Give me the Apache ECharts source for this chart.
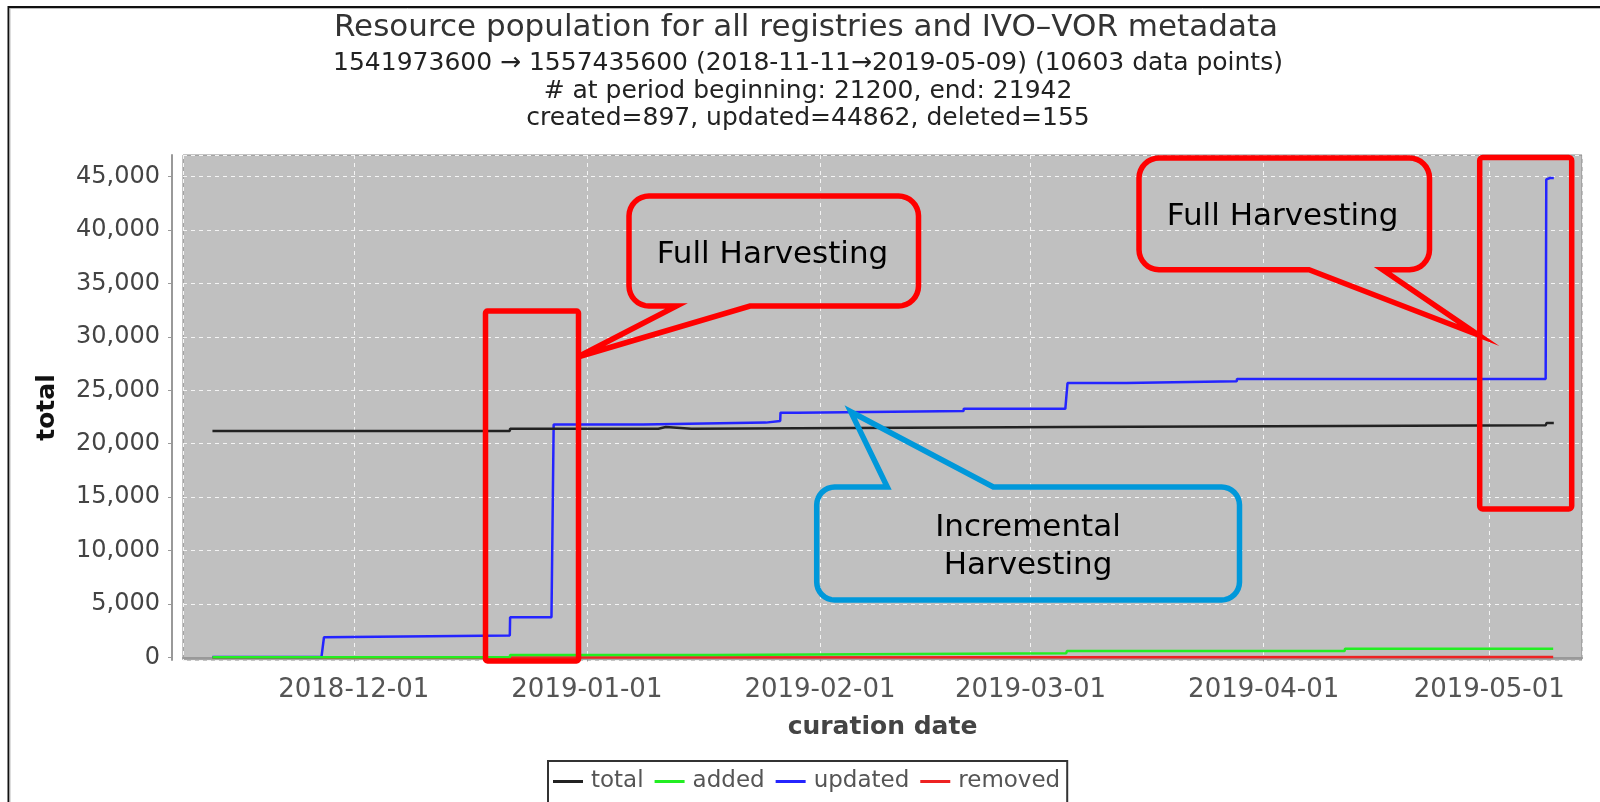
<!DOCTYPE html>
<html>
<head>
<meta charset="utf-8">
<title>Resource population for all registries and IVO-VOR metadata</title>
<style>
  html, body { margin: 0; padding: 0; background: #fff; }
  #main { width: 1600px; height: 802px; }
</style>
</head>
<body>
<div id="main"></div>
<script src="https://cdn.jsdelivr.net/npm/echarts@6.0.0/dist/echarts.min.js"></script>
<script>
// series values: [time, value] at each step
var totalData = [
  ['2018-11-12 05:00', 21200],
  ['2018-12-21 18:00', 21200],
  ['2018-12-21 19:00', 21400],
  ['2019-01-10 12:00', 21400],
  ['2019-01-10 13:00', 21560],
  ['2019-01-11 12:00', 21560],
  ['2019-01-11 13:00', 21400],
  ['2019-01-14 22:00', 21400],
  ['2019-01-14 23:00', 21560],
  ['2019-03-05 17:00', 21560],
  ['2019-03-05 19:00', 21740],
  ['2019-05-08 12:00', 21740],
  ['2019-05-08 15:00', 21942],
  ['2019-05-09 14:00', 21942]
];
var addedData = [
  ['2018-11-12 05:00', 20],
  ['2018-12-21 18:00', 20],
  ['2018-12-21 19:00', 230],
  ['2019-01-17 21:00', 230],
  ['2019-01-17 22:00', 400],
  ['2019-03-05 18:00', 400],
  ['2019-03-05 20:00', 600],
  ['2019-04-11 18:00', 600],
  ['2019-04-11 20:00', 830],
  ['2019-05-09 12:00', 830]
];
var updatedData = [
  ['2018-11-12 05:00', 50],
  ['2018-11-26 17:00', 50],
  ['2018-11-27 01:00', 1900],
  ['2018-12-21 18:00', 2060],
  ['2018-12-21 19:00', 3770],
  ['2018-12-27 07:00', 3770],
  ['2018-12-27 14:00', 21790],
  ['2019-01-08 12:00', 21790],
  ['2019-01-08 13:00', 21975],
  ['2019-01-24 19:00', 21975],
  ['2019-01-24 20:00', 22125],
  ['2019-01-26 17:00', 22125],
  ['2019-01-26 18:00', 22910],
  ['2019-01-29 02:00', 22910],
  ['2019-01-29 03:00', 23060],
  ['2019-02-20 02:00', 23060],
  ['2019-02-20 03:00', 23270],
  ['2019-03-05 15:00', 23270],
  ['2019-03-05 22:00', 25680],
  ['2019-03-13 17:00', 25680],
  ['2019-03-13 18:00', 25840],
  ['2019-03-28 10:00', 25840],
  ['2019-03-28 11:00', 26060],
  ['2019-05-08 12:00', 26060],
  ['2019-05-08 14:00', 44730],
  ['2019-05-09 02:00', 44862],
  ['2019-05-09 14:00', 44862]
];
var removedData = [
  ['2018-11-12 05:00', 0],
  ['2018-12-21 18:00', 0],
  ['2018-12-21 19:00', 40],
  ['2019-05-09 12:00', 40]
];

var seriesNames = ['total', 'added', 'updated', 'removed'];
var seriesColors = ['#222222', '#22ee22', '#2424ff', '#ee2222'];

var titleText = 'Resource population for all registries and IVO\u2013VOR metadata';
var subLines = [
  '1541973600 \u2192 1557435600 (2018-11-11\u21922019-05-09) (10603 data points)',
  '# at period beginning: 21200, end: 21942',
  'created=897, updated=44862, deleted=155'
];

var xMin = '2018-11-08 07:00';
var xMax = '2019-05-13 08:00';
var yMin = -234;
var yMax = 47013;

function toTime(s) {
  return new Date(s.replace(' ', 'T')).getTime();
}

// rounded box outline with a pointed tail on its top or bottom side, as polygon points
function calloutPoints(x0, y0, x1, y1, r, side, b0, b1, tx, ty) {
  var pts = [];
  function corner(cx, cy, a0) {
    for (var k = 0; k <= 8; k++) {
      var a = (a0 + k * 90 / 8) * Math.PI / 180;
      pts.push([cx + r * Math.cos(a), cy + r * Math.sin(a)]);
    }
  }
  corner(x0 + r, y0 + r, 180);
  if (side === 'top') { pts.push([b0, y0], [tx, ty], [b1, y0]); }
  corner(x1 - r, y0 + r, 270);
  corner(x1 - r, y1 - r, 0);
  if (side === 'bottom') { pts.push([b1, y1], [tx, ty], [b0, y1]); }
  corner(x0 + r, y1 - r, 90);
  return pts;
}

var FONT = 'DejaVu Sans';
var RED = '#ff0000';
var BLUE = '#0098da';

function centredText(text, x, y, size, color) {
  return { type: 'text', x: x, y: y,
    style: { text: text, fontFamily: FONT, fontSize: size, fill: color, align: 'center', verticalAlign: 'middle' } };
}

var graphics = [
  // outer frame
  { type: 'line', shape: { x1: 8, y1: 7, x2: 1600, y2: 7 }, style: { stroke: '#111', lineWidth: 2 } },
  { type: 'line', shape: { x1: 8.5, y1: 6, x2: 8.5, y2: 802 }, style: { stroke: '#111', lineWidth: 2 } },
  { type: 'line', shape: { x1: 10, y1: 8.5, x2: 1600, y2: 8.5 }, style: { stroke: '#bbb', lineWidth: 1 } },
  { type: 'line', shape: { x1: 10, y1: 8.5, x2: 10, y2: 802 }, style: { stroke: '#bbb', lineWidth: 1 } },
  // title block
  centredText(titleText, 806, 28, 31, '#333'),
  centredText(subLines[0], 808, 63.5, 25, '#222'),
  centredText(subLines[1], 808, 91, 25, '#222'),
  centredText(subLines[2], 808, 118.5, 25, '#222'),
  // highlight boxes
  { type: 'rect', z: 100, shape: { x: 485.5, y: 311, width: 93, height: 350, r: 2 },
    style: { fill: 'none', stroke: RED, lineWidth: 5.5 } },
  { type: 'rect', z: 100, shape: { x: 1479.7, y: 157.5, width: 92, height: 351.5, r: 3 },
    style: { fill: 'none', stroke: RED, lineWidth: 5.5 } },
  // callouts
  { type: 'polygon', z: 100, shape: { points: calloutPoints(629, 196, 918.5, 306, 20, 'bottom', 676.5, 750, 577.6, 357) },
    style: { fill: 'none', stroke: RED, lineWidth: 5.5, lineJoin: 'miter' } },
  { type: 'polygon', z: 100, shape: { points: calloutPoints(1139, 158, 1429.5, 269.7, 20, 'bottom', 1309, 1382.7, 1478.3, 335) },
    style: { fill: 'none', stroke: RED, lineWidth: 5.5, lineJoin: 'miter' } },
  { type: 'polygon', z: 100, shape: { points: calloutPoints(816.7, 487, 1239.5, 600, 18, 'top', 887.3, 993.3, 850.7, 411.7) },
    style: { fill: 'none', stroke: BLUE, lineWidth: 5.5, lineJoin: 'miter' } },
  { type: 'text', z: 101, x: 772.5, y: 255,
    style: { text: 'Full Harvesting', fontFamily: FONT, fontSize: 31, fill: '#000', align: 'center', verticalAlign: 'middle' } },
  { type: 'text', z: 101, x: 1282.6, y: 217,
    style: { text: 'Full Harvesting', fontFamily: FONT, fontSize: 31, fill: '#000', align: 'center', verticalAlign: 'middle' } },
  { type: 'text', z: 101, x: 1028, y: 547,
    style: { text: 'Incremental\nHarvesting', fontFamily: FONT, fontSize: 31, lineHeight: 37.5, fill: '#000', align: 'center', verticalAlign: 'middle' } }
];

var option = {
  animation: false,
  backgroundColor: '#ffffff',
  textStyle: { fontFamily: FONT },
  legend: {
    data: seriesNames.map(function (n) { return { name: n, icon: 'rect' }; }),
    left: 548,
    top: 761,
    orient: 'horizontal',
    itemWidth: 30,
    itemHeight: 3,
    itemGap: 11,
    padding: [9, 7, 30, 5],
    borderColor: '#333',
    borderWidth: 2,
    selectedMode: false,
    textStyle: { fontFamily: FONT, fontSize: 23, color: '#555', padding: [0, 0, 0, 3] }
  },
  grid: {
    left: 183,
    right: 18,
    top: 155,
    bottom: 142,
    show: true,
    backgroundColor: '#c0c0c0',
    borderColor: '#888',
    borderWidth: 1,
    outerBoundsMode: 'none'
  },
  xAxis: {
    type: 'time',
    min: toTime(xMin),
    max: toTime(xMax),
    offset: 9,
    splitNumber: 6,
    axisLine: { show: true, lineStyle: { color: '#999', width: 2 } },
    axisTick: { show: true, length: 4, lineStyle: { color: '#999', width: 1 } },
    axisLabel: {
      formatter: '{yyyy}-{MM}-{dd}',
      fontFamily: FONT, fontSize: 26, color: '#555', margin: 8,
      showMinLabel: false, showMaxLabel: false
    },
    splitLine: { show: true, lineStyle: { color: '#f4f4f4', type: [4, 4], width: 1 } },
    name: 'curation date',
    nameLocation: 'middle',
    nameGap: 46,
    nameTextStyle: { fontFamily: FONT, fontSize: 25, fontWeight: 'bold', color: '#444' }
  },
  yAxis: {
    type: 'value',
    min: yMin,
    max: yMax,
    splitNumber: 10,
    offset: 11,
    axisLine: { show: true, lineStyle: { color: '#999', width: 2 } },
    axisTick: { show: true, length: 4, lineStyle: { color: '#999', width: 1 } },
    axisLabel: {
      fontFamily: FONT, fontSize: 24, color: '#444', margin: 12,
      showMinLabel: false, showMaxLabel: false,
      formatter: function (v) { return v.toLocaleString('en-US'); }
    },
    splitLine: { show: true, lineStyle: { color: '#f4f4f4', type: [4, 4], width: 1 } },
    name: 'total',
    nameLocation: 'middle',
    nameGap: 112,
    nameTextStyle: { fontFamily: FONT, fontSize: 25, fontWeight: 'bold', color: '#111' }
  },
  series: seriesNames.map(function (n, i) {
    return {
      name: n,
      type: 'line',
      data: [totalData, addedData, updatedData, removedData][i],
      showSymbol: false,
      symbol: 'none',
      z: 5 - i,
      color: seriesColors[i],
      lineStyle: { color: seriesColors[i], width: 2.5 },
      emphasis: { disabled: true }
    };
  }),
  graphic: graphics
};

var myChart = echarts.init(document.getElementById('main'), null, { renderer: 'canvas' });
myChart.setOption(option);
</script>
</body>
</html>
